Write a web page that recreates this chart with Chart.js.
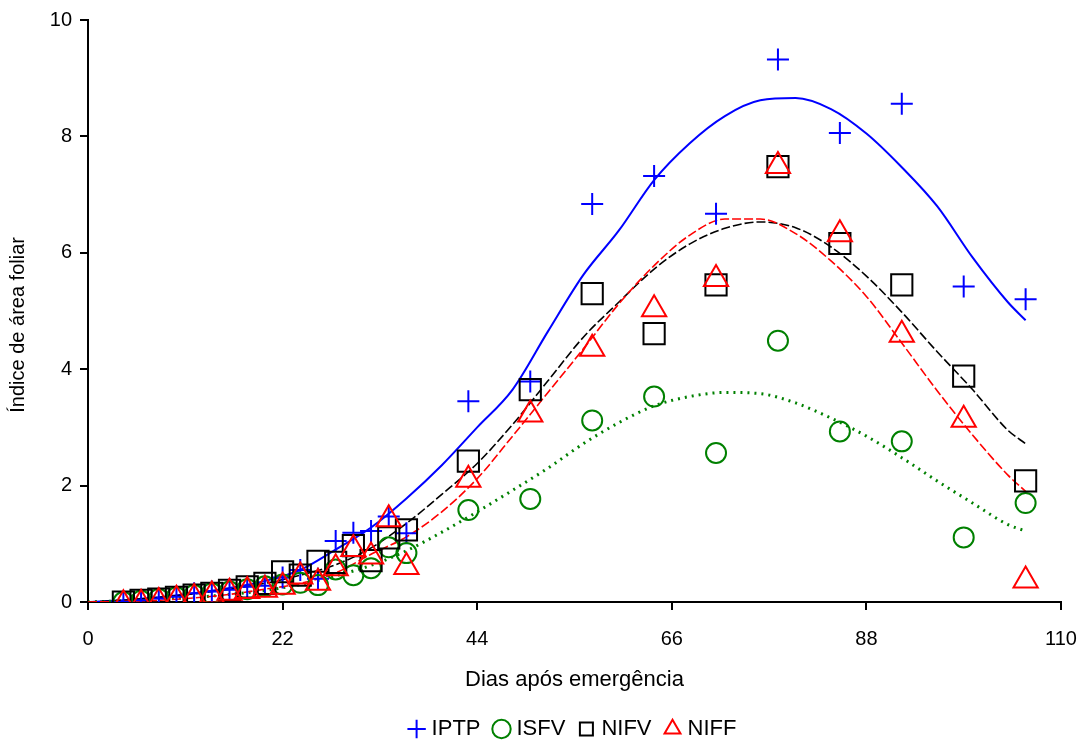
<!DOCTYPE html>
<html>
<head>
<meta charset="utf-8">
<script src="https://cdn.jsdelivr.net/npm/chart.js@4.4.1/dist/chart.umd.min.js"></script>
<style>
  body { margin: 0; background: #fff; }
  #wrap { width: 1090px; height: 742px; }
</style>
</head>
<body>
<div id="wrap"><canvas id="chart"></canvas></div>
<script>
// observed points (days after emergence)
const obsDays = [4, 6, 8, 10, 12, 14, 16, 18, 20, 22, 24, 26, 28, 30, 32, 34, 36, 43, 50, 57, 64, 71, 78, 85, 92, 99, 106];
const iptpObs = [0.0, 0.03, 0.06, 0.09, 0.15, 0.18, 0.21, 0.26, 0.28, 0.42, 0.55, 0.4, 1.05, 1.19, 1.22, 1.47, 1.18, 3.45, 3.79, 6.84, 7.32, 6.67, 9.32, 8.06, 8.56, 5.42, 5.2];
const isfvObs = [0.0, 0.02, 0.05, 0.08, 0.12, 0.15, 0.18, 0.22, 0.27, 0.3, 0.33, 0.29, 0.56, 0.46, 0.58, 0.94, 0.84, 1.58, 1.77, 3.12, 3.53, 2.56, 4.49, 2.93, 2.76, 1.11, 1.7];
const nifvObs = [0.0, 0.03, 0.05, 0.08, 0.12, 0.15, 0.2, 0.26, 0.32, 0.52, 0.46, 0.7, 0.68, 0.97, 0.71, 1.1, 1.24, 2.42, 3.65, 5.3, 4.61, 5.45, 7.48, 6.16, 5.45, 3.88, 2.08];
const niffObs = [-0.04, -0.03, 0.0, 0.04, 0.07, 0.11, 0.16, 0.19, 0.21, 0.26, 0.44, 0.33, 0.58, 0.91, 0.78, 1.42, 0.6, 2.1, 3.22, 4.35, 5.03, 5.55, 7.49, 6.32, 4.59, 3.13, 0.37];

// fitted curves
const fitDays = [0, 4, 8, 12, 16, 20, 24, 28, 32, 36, 40, 44, 48, 52, 56, 60, 64, 68, 72, 76, 80, 84, 88, 92, 96, 100, 104, 106];
const iptpFit = [0, 0.03, 0.08, 0.15, 0.24, 0.36, 0.55, 0.9, 1.28, 1.78, 2.35, 3.0, 3.65, 4.65, 5.62, 6.38, 7.25, 7.88, 8.35, 8.62, 8.66, 8.47, 8.05, 7.47, 6.8, 5.92, 5.15, 4.84];
const isfvFit = [0, 0.02, 0.05, 0.08, 0.13, 0.2, 0.3, 0.45, 0.63, 0.88, 1.2, 1.55, 1.92, 2.3, 2.72, 3.08, 3.37, 3.53, 3.6, 3.58, 3.42, 3.16, 2.85, 2.48, 2.08, 1.7, 1.33, 1.22];
const nifvFit = [0, 0.03, 0.08, 0.14, 0.22, 0.32, 0.46, 0.64, 0.93, 1.35, 1.85, 2.38, 3.05, 3.8, 4.55, 5.15, 5.72, 6.15, 6.42, 6.53, 6.43, 6.1, 5.6, 4.98, 4.3, 3.65, 2.95, 2.72];
const niffFit = [0, 0.01, 0.03, 0.07, 0.13, 0.22, 0.32, 0.5, 0.82, 1.12, 1.55, 2.12, 2.85, 3.6, 4.35, 5.12, 5.78, 6.3, 6.58, 6.58, 6.33, 5.86, 5.25, 4.45, 3.63, 2.87, 2.18, 1.9];

const xTicks = [0, 22, 44, 66, 88, 110];
const yTicks = [0, 2, 4, 6, 8, 10];

const FONT = 'Liberation Sans, Arial, sans-serif';
const toPts = (xs, ys) => xs.map((x, i) => ({ x: x, y: ys[i] }));

function markerSet(label, ys, color, style, radius, order) {
  return {
    label: label,
    data: toPts(obsDays, ys),
    pointStyle: style,
    pointRadius: radius,
    pointHoverRadius: radius,
    borderColor: color,
    backgroundColor: 'transparent',
    borderWidth: 2,
    pointBorderWidth: 2,
    order: order
  };
}

function curveSet(ys, color, width, dash, order) {
  return {
    label: '',
    data: toPts(fitDays, ys),
    showLine: true,
    pointRadius: 0,
    borderColor: color,
    borderWidth: width,
    borderDash: dash,
    cubicInterpolationMode: 'monotone',
    order: order,
    isFit: true
  };
}

const datasets = [
  markerSet('IPTP', iptpObs, '#0000ff', 'cross', 11, 4),
  markerSet('ISFV', isfvObs, '#008000', 'circle', 10, 3),
  markerSet('NIFV', nifvObs, '#000000', 'rect', 15, 2),
  markerSet('NIFF', niffObs, '#ff0000', 'triangle', 14, 1),
  curveSet(iptpFit, '#0000ff', 2, [], 8),
  curveSet(isfvFit, '#008000', 3, [2, 5], 7),
  curveSet(nifvFit, '#000000', 1.6, [9, 3], 6),
  curveSet(niffFit, '#ff0000', 1.6, [9, 3], 5)
];

const ctx = document.getElementById('chart').getContext('2d');
const chart = new Chart(ctx, {
  type: 'scatter',
  data: { datasets: datasets },
  options: {
    responsive: true,
    maintainAspectRatio: false,
    animation: false,
    devicePixelRatio: 1,
    layout: { padding: { top: 19, right: 29, bottom: -8, left: 0 } },
    plugins: {
      tooltip: { enabled: false },
      legend: {
        position: 'bottom',
        fullSize: false,
        labels: {
          usePointStyle: true,
          boxWidth: 8,
          boxHeight: 13,
          padding: 17,
          color: '#000',
          font: { family: FONT, size: 22 },
          filter: (item, data) => !data.datasets[item.datasetIndex].isFit,
          sort: (a, b) => a.datasetIndex - b.datasetIndex
        }
      }
    },
    scales: {
      x: {
        type: 'linear',
        min: 0,
        max: 110,
        afterBuildTicks: (s) => { s.ticks = xTicks.map(v => ({ value: v })); },
        afterFit: (s) => { s.height = 99; s.paddingRight = 0; },
        border: { display: true, color: '#000', width: 2 },
        grid: { display: true, drawOnChartArea: false, drawTicks: true, tickLength: 8, color: '#000', lineWidth: 2 },
        ticks: { color: '#000', padding: 17, maxRotation: 0, font: { family: FONT, size: 20 } },
        title: { display: true, text: 'Dias após emergência', color: '#000', font: { family: FONT, size: 22 }, padding: { top: 0, bottom: 8 } }
      },
      y: {
        type: 'linear',
        min: 0,
        max: 10,
        afterBuildTicks: (s) => { s.ticks = yTicks.map(v => ({ value: v })); },
        afterFit: (s) => { s.width = 88; },
        border: { display: true, color: '#000', width: 2 },
        grid: { display: true, drawOnChartArea: false, drawTicks: true, tickLength: 8, color: '#000', lineWidth: 2 },
        ticks: { color: '#000', padding: 8, font: { family: FONT, size: 20 } },
        title: { display: true, text: 'Índice de área foliar     ', color: '#000', font: { family: FONT, size: 20 }, padding: { top: 6, bottom: 0 } }
      }
    }
  }
});
</script>
</body>
</html>
